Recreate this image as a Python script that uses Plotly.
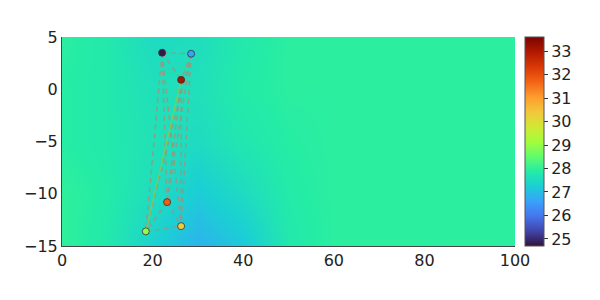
import plotly.graph_objects as go

# Background field (coarse grid)
grid_x = [0, 10, 20, 30, 40, 50, 60, 80, 100]
grid_y = [-15, -10, -5, 0, 5]
grid_z = [
    [28.0, 27.8, 27.3, 26.85, 27.15, 27.8, 27.95, 27.95, 27.95],
    [28.0, 27.85, 27.55, 27.2, 27.5, 27.85, 27.95, 27.95, 27.95],
    [27.9, 27.8, 27.65, 27.5, 27.75, 27.9, 27.95, 27.95, 27.95],
    [27.9, 27.8, 27.6, 27.6, 27.85, 27.95, 27.95, 27.95, 27.95],
    [27.95, 27.8, 27.5, 27.55, 27.8, 27.95, 27.95, 27.95, 27.95],
]

# Observation points
pt_x = [22.1, 28.5, 26.3, 23.2, 18.5, 26.3]
pt_y = [3.5, 3.4, 0.9, -10.8, -13.6, -13.1]
pt_v = [24.8, 26.6, 33.1, 31.8, 29.0, 30.3]

# Connections between points
edges = [(0, 1), (0, 2), (0, 3), (0, 4), (0, 5), (1, 2), (1, 3), (1, 4), (1, 5),
         (2, 3), (2, 5), (3, 4), (3, 5), (4, 5)]
solid_edges = [(2, 4)]

cmin, cmax = 24.7, 33.6

fig = go.Figure()
fig.add_trace(go.Heatmap(
    x=grid_x, y=grid_y, z=grid_z, zsmooth="best",
    colorscale="Turbo", zmin=cmin, zmax=cmax,
    colorbar=dict(
        x=1.0, xanchor="left", xpad=10, y=0.5, yanchor="middle", len=1.0, ypad=0,
        thickness=19, outlinewidth=1, outlinecolor="#555",
        tickmode="array", tickvals=list(range(25, 34)),
        ticks="outside", ticklen=4, tickcolor="#333",
        tickfont=dict(family="DejaVu Sans", size=16, color="#222"),
    ),
    showscale=True, hoverinfo="skip",
))

for a, b in edges:
    fig.add_trace(go.Scatter(
        x=[pt_x[a], pt_x[b]], y=[pt_y[a], pt_y[b]], mode="lines",
        line=dict(color="rgba(155,150,125,0.8)", width=1.6, dash="5px,4px"),
        showlegend=False, hoverinfo="skip",
    ))
for a, b in solid_edges:
    fig.add_trace(go.Scatter(
        x=[pt_x[a], pt_x[b]], y=[pt_y[a], pt_y[b]], mode="lines",
        line=dict(color="rgba(150,200,70,0.8)", width=1.2),
        showlegend=False, hoverinfo="skip",
    ))

fig.add_trace(go.Scatter(
    x=pt_x, y=pt_y, mode="markers",
    marker=dict(size=7, color=pt_v, colorscale="Turbo", cmin=cmin, cmax=cmax,
                line=dict(color="#333", width=0.8), showscale=False),
    showlegend=False,
))

axis_font = dict(family="DejaVu Sans", size=16, color="#222")
fig.update_layout(
    width=600, height=300,
    margin=dict(l=62, r=85, t=37, b=54, autoexpand=False),
    paper_bgcolor="white", plot_bgcolor="white",
    showlegend=False,
    xaxis=dict(range=[0, 100], tickvals=[0, 20, 40, 60, 80, 100], showgrid=False,
               zeroline=False, showline=True, linecolor="#444", linewidth=1,
               mirror=False, tickfont=axis_font, ticks="", ticklen=0),
    yaxis=dict(range=[-15, 5], tickvals=[-15, -10, -5, 0, 5], showgrid=False,
               zeroline=False, showline=True, linecolor="#444", linewidth=1,
               mirror=False, tickfont=axis_font, ticks="", ticklen=0),
)

fig.write_html("out.html")
